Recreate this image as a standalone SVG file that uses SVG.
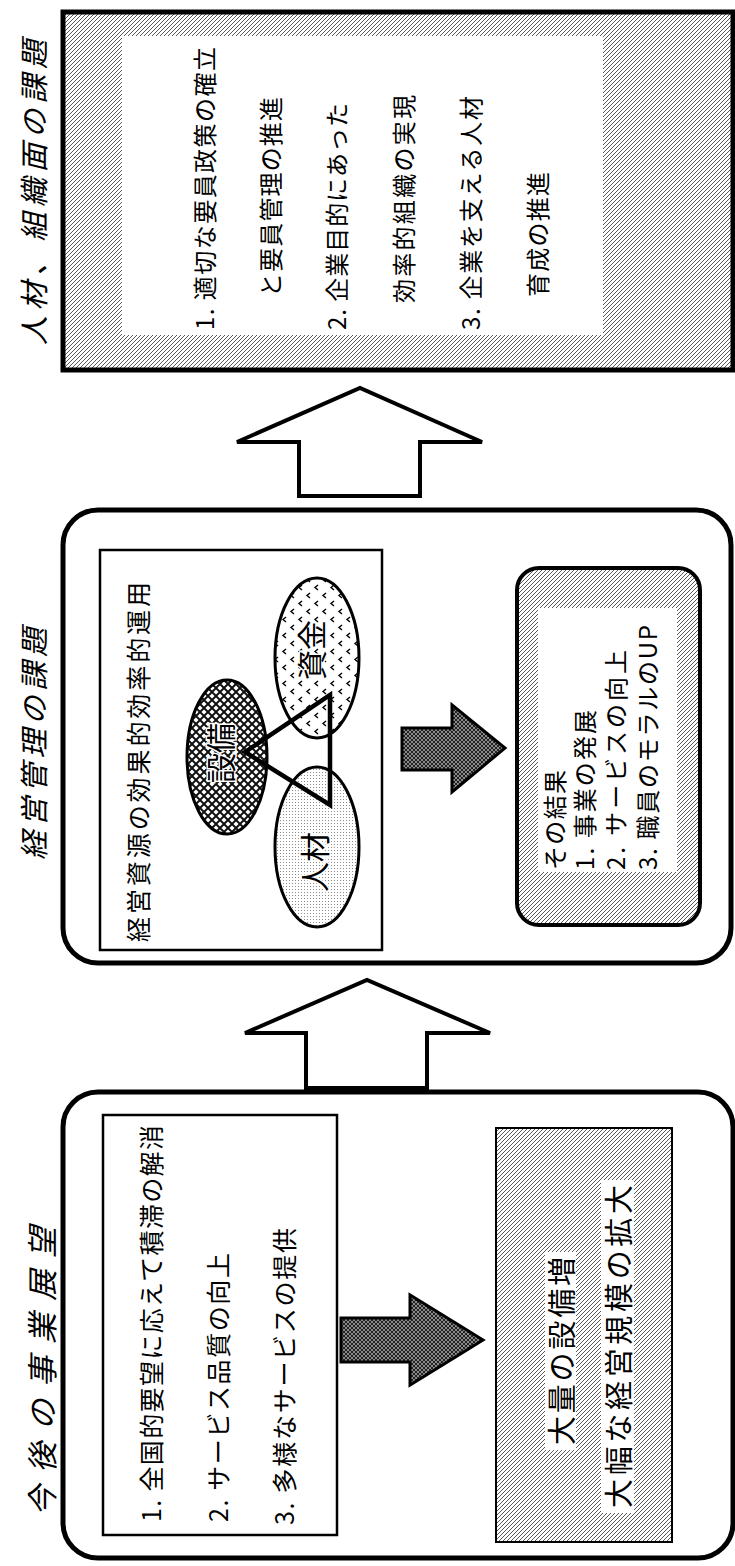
<svg xmlns="http://www.w3.org/2000/svg" width="735" height="1566" viewBox="0 0 735 1566">
<defs>
<pattern id="hatch" width="4" height="4" patternUnits="userSpaceOnUse">
<rect width="4" height="4" fill="#fff"/>
<path d="M-1,1 l2,-2 M0,4 l4,-4 M3,5 l2,-2" stroke="#444" stroke-width="0.9"/>
</pattern>
<pattern id="cross" width="8" height="8" patternUnits="userSpaceOnUse">
<rect width="8" height="8" fill="#fff"/>
<path d="M0,0 L8,8 M8,0 L0,8" stroke="#111" stroke-width="2"/>
</pattern>
<pattern id="dark" width="4" height="4" patternUnits="userSpaceOnUse">
<rect width="4" height="4" fill="#8a8a8a"/>
<path d="M0,0 L4,4 M4,0 L0,4" stroke="#222" stroke-width="1"/>
</pattern>
<pattern id="chev" width="16" height="16" patternUnits="userSpaceOnUse">
<rect width="16" height="16" fill="#fff"/>
<path d="M6,1 l-3,2.5 l3,2.5 M14,9 l-3,2.5 l3,2.5" fill="none" stroke="#000" stroke-width="1.4"/>
</pattern>
<pattern id="dots" width="3" height="3" patternUnits="userSpaceOnUse">
<rect width="3" height="3" fill="#fff"/>
<rect x="1" y="1" width="1" height="1" fill="#8c8c8c"/>
</pattern>
<style>
.t{font-family:"Noto Sans CJK JP","Noto Sans CJK SC",sans-serif;fill:#000;dominant-baseline:central}
.title{font-size:29px;font-style:italic}
.item{font-size:24px}
.big{font-size:29px}
.ell{font-size:30px;paint-order:stroke;stroke:#fff;stroke-width:3px}
.panel{stroke:#000;stroke-width:5}
.box{fill:#fff;stroke:#000;stroke-width:2.5}
.hollow{fill:#fff;stroke:#000;stroke-width:4;stroke-linejoin:miter}
.solid{fill:url(#dark);stroke:#000;stroke-width:3;stroke-linejoin:miter}
</style>
</defs>
<rect width="735" height="1566" fill="#fff"/>

<g id="node-future">
<rect class="panel" x="63" y="1092" width="670" height="466" rx="35" fill="#fff"/>
<text class="t title" x="40" y="1516" transform="rotate(-90 40 1516)" textLength="289" lengthAdjust="spacing" style="font-size:31px">今後の事業展望</text>
<rect class="box" x="103" y="1115" width="234" height="420"/>
<text class="t item" x="150" y="1522" transform="rotate(-90 150 1522)" textLength="397" lengthAdjust="spacing" style="font-size:25px">1. 全国的要望に応えて積滞の解消</text>
<text class="t item" x="217" y="1522" transform="rotate(-90 217 1522)" textLength="269" lengthAdjust="spacing" style="font-size:25px">2. サービス品質の向上</text>
<text class="t item" x="283" y="1525" transform="rotate(-90 283 1525)" textLength="297" lengthAdjust="spacing" style="font-size:25px">3. 多様なサービスの提供</text>
</g>

<g id="node-expansion">
<rect x="496" y="1128" width="176" height="414" fill="url(#hatch)" stroke="#000" stroke-width="2"/>
<rect x="545" y="1252" width="31" height="198" fill="#fff"/>
<rect x="601" y="1180" width="33" height="333" fill="#fff"/>
<text class="t big" x="560" y="1445" transform="rotate(-90 560 1445)" textLength="188" lengthAdjust="spacing">大量の設備増</text>
<text class="t big" x="617" y="1508" transform="rotate(-90 617 1508)" textLength="323" lengthAdjust="spacing">大幅な経営規模の拡大</text>
</g>

<g id="node-management">
<rect class="panel" x="63" y="510" width="668" height="453" rx="35" fill="#fff"/>
<text class="t title" x="32" y="860" transform="rotate(-90 32 860)" textLength="232" lengthAdjust="spacing">経営管理の課題</text>
<rect class="box" x="100" y="550" width="282" height="400"/>
<text class="t item" x="137" y="942" transform="rotate(-90 137 942)" textLength="360" lengthAdjust="spacing" style="font-size:25px">経営資源の効果的効率的運用</text>
<ellipse cx="227" cy="757" rx="40" ry="77" fill="url(#cross)" stroke="#000" stroke-width="3"/>
<ellipse cx="317" cy="658" rx="42" ry="80" fill="url(#chev)" stroke="#000" stroke-width="3"/>
<ellipse cx="317" cy="847" rx="42" ry="80" fill="url(#dots)" stroke="#000" stroke-width="3"/>
<polygon points="245,752 330,695 330,805" fill="none" stroke="#000" stroke-width="4.5" stroke-linejoin="miter"/>
<text class="t ell" x="219" y="753" text-anchor="middle" transform="rotate(-90 219 753)">設備</text>
<text class="t ell" x="310" y="650" text-anchor="middle" transform="rotate(-90 310 650)">資金</text>
<text class="t ell" x="313" y="862" text-anchor="middle" transform="rotate(-90 313 862)">人材</text>
</g>

<g id="node-result">
<rect x="517" y="568" width="183" height="357" rx="22" fill="url(#hatch)" stroke="#000" stroke-width="4"/>
<rect x="538" y="608" width="139" height="264" fill="#fff"/>
<text class="t item" x="553" y="870" transform="rotate(-90 553 870)" textLength="100" lengthAdjust="spacing">その結果</text>
<text class="t item" x="583" y="870" transform="rotate(-90 583 870)" textLength="160" lengthAdjust="spacing">1. 事業の発展</text>
<text class="t item" x="614" y="870" transform="rotate(-90 614 870)" textLength="220" lengthAdjust="spacing">2. サービスの向上</text>
<text class="t item" x="646" y="870" transform="rotate(-90 646 870)" textLength="245" lengthAdjust="spacing">3. 職員のモラルのUP</text>
</g>

<g id="node-hr">
<rect class="panel" x="63" y="12" width="670" height="358" fill="url(#hatch)"/>
<rect x="122" y="36" width="481" height="299" fill="#fff"/>
<text class="t title" x="32" y="345" transform="rotate(-90 32 345)" textLength="305" lengthAdjust="spacing">人材、組織面の課題</text>
<text class="t item" x="203" y="330" transform="rotate(-90 203 330)" textLength="283" lengthAdjust="spacing">1. 適切な要員政策の確立</text>
<text class="t item" x="269" y="297" transform="rotate(-90 269 297)" textLength="200" lengthAdjust="spacing">と要員管理の推進</text>
<text class="t item" x="335" y="330" transform="rotate(-90 335 330)" textLength="227" lengthAdjust="spacing">2. 企業目的にあった</text>
<text class="t item" x="402" y="303" transform="rotate(-90 402 303)" textLength="208" lengthAdjust="spacing">効率的組織の実現</text>
<text class="t item" x="469" y="330" transform="rotate(-90 469 330)" textLength="234" lengthAdjust="spacing">3. 企業を支える人材</text>
<text class="t item" x="536" y="297" transform="rotate(-90 536 297)" textLength="125" lengthAdjust="spacing">育成の推進</text>
</g>

<g id="connectors">
<polygon class="hollow" points="306,1088 306,1033 245,1033 367,980 490,1033 427,1033 427,1088"/>
<polygon class="hollow" points="299,496 299,442 237,442 360,388 482,442 420,442 420,496"/>
<polygon class="solid" points="341,1318 410,1318 410,1295 483,1340 410,1385 410,1362 341,1362"/>
<polygon class="solid" points="402,728 452,728 452,705 505,748 452,792 452,770 402,770"/>
</g>
</svg>
